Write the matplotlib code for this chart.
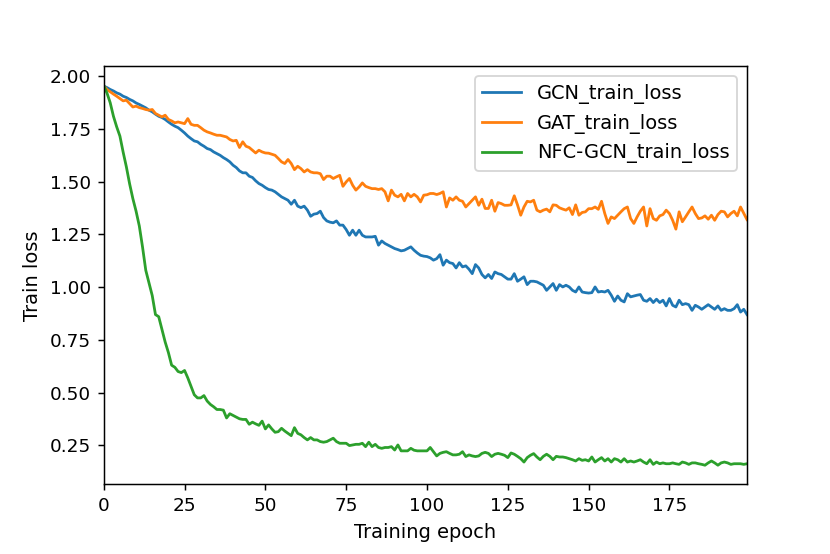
import matplotlib
matplotlib.use("Agg")
import matplotlib.pyplot as plt
import numpy as np

gcn_train_loss = [
    1.953, 1.946, 1.937, 1.93, 1.921, 1.915, 1.905, 1.899, 1.89, 1.883,
    1.873, 1.866, 1.858, 1.85, 1.839, 1.831, 1.82, 1.81, 1.804, 1.795,
    1.783, 1.772, 1.763, 1.756, 1.744, 1.731, 1.716, 1.704, 1.693, 1.689,
    1.677, 1.668, 1.657, 1.652, 1.641, 1.633, 1.625, 1.614, 1.605, 1.594,
    1.578, 1.567, 1.551, 1.542, 1.542, 1.526, 1.52, 1.504, 1.491, 1.483,
    1.472, 1.463, 1.46, 1.452, 1.44, 1.428, 1.42, 1.412, 1.393, 1.412,
    1.384, 1.377, 1.384, 1.365, 1.336, 1.346, 1.349, 1.36, 1.33, 1.314,
    1.308, 1.305, 1.314, 1.294, 1.294, 1.273, 1.246, 1.27, 1.246, 1.27,
    1.246, 1.238, 1.238, 1.238, 1.241, 1.199, 1.219, 1.207, 1.199, 1.191,
    1.183, 1.178, 1.172, 1.175, 1.183, 1.191, 1.175, 1.162, 1.151, 1.147,
    1.145, 1.139, 1.128, 1.135, 1.154, 1.104, 1.128, 1.116, 1.112, 1.091,
    1.116, 1.096, 1.101, 1.085, 1.064, 1.107, 1.091, 1.06, 1.044, 1.06,
    1.041, 1.072, 1.064, 1.06, 1.049, 1.038, 1.038, 1.064, 1.028, 1.038,
    1.049, 1.012, 1.028, 1.028, 1.025, 1.017, 1.009, 0.985, 1.001, 1.017,
    0.985, 1.012, 1.001, 1.009, 1.001, 0.985, 0.977, 1.001, 0.977, 0.974,
    0.972, 0.974, 1.001, 0.977, 0.98, 0.977, 0.985, 0.962, 0.933, 0.958,
    0.938, 0.93, 0.969, 0.954, 0.958, 0.962, 0.965, 0.938, 0.933, 0.946,
    0.927, 0.943, 0.927, 0.938, 0.911, 0.946, 0.914, 0.906, 0.938, 0.917,
    0.922, 0.917, 0.89, 0.914, 0.906, 0.895, 0.906, 0.917, 0.906, 0.895,
    0.911, 0.89, 0.898, 0.89, 0.89, 0.898, 0.917, 0.882, 0.895, 0.87,
]

gat_train_loss = [
    1.953, 1.937, 1.926, 1.915, 1.905, 1.894, 1.883, 1.886, 1.87, 1.854,
    1.858, 1.851, 1.847, 1.842, 1.839, 1.842, 1.823, 1.815, 1.807, 1.815,
    1.795, 1.788, 1.779, 1.783, 1.779, 1.775, 1.799, 1.772, 1.767, 1.767,
    1.756, 1.744, 1.736, 1.731, 1.725, 1.72, 1.72, 1.716, 1.712, 1.70,
    1.693, 1.696, 1.662, 1.689, 1.668, 1.662, 1.649, 1.636, 1.649, 1.641,
    1.636, 1.635, 1.63, 1.625, 1.61, 1.594, 1.586, 1.605, 1.586, 1.557,
    1.573, 1.562, 1.546, 1.557, 1.546, 1.542, 1.542, 1.538, 1.51, 1.526,
    1.526, 1.515, 1.523, 1.53, 1.478, 1.499, 1.515, 1.483, 1.46, 1.475,
    1.494, 1.478, 1.472, 1.467, 1.467, 1.463, 1.467, 1.452, 1.409, 1.46,
    1.436, 1.428, 1.44, 1.409, 1.444, 1.428, 1.44, 1.428, 1.404, 1.436,
    1.438, 1.444, 1.444, 1.439, 1.444, 1.452, 1.38, 1.423, 1.412, 1.428,
    1.412, 1.407, 1.38, 1.396, 1.412, 1.428, 1.388, 1.417, 1.373, 1.373,
    1.412, 1.36, 1.401, 1.396, 1.388, 1.388, 1.39, 1.433, 1.39, 1.341,
    1.38, 1.407, 1.404, 1.412, 1.365, 1.357, 1.365, 1.37, 1.357, 1.39,
    1.388, 1.376, 1.37, 1.365, 1.376, 1.344, 1.39, 1.341, 1.354, 1.357,
    1.372, 1.372, 1.38, 1.369, 1.407, 1.349, 1.302, 1.333, 1.325, 1.341,
    1.357, 1.372, 1.38, 1.325, 1.302, 1.333, 1.36, 1.38, 1.29, 1.372,
    1.325, 1.317, 1.338, 1.344, 1.365, 1.349, 1.317, 1.275, 1.357, 1.31,
    1.333, 1.357, 1.38, 1.349, 1.325, 1.328, 1.338, 1.322, 1.341, 1.317,
    1.344, 1.36, 1.357, 1.333, 1.349, 1.36, 1.338, 1.38, 1.35, 1.32,
]

nfc_gcn_train_loss = [
    1.956, 1.92, 1.874, 1.81, 1.76, 1.716, 1.64, 1.57, 1.49, 1.42,
    1.36, 1.29, 1.19, 1.08, 1.02, 0.96, 0.87, 0.86, 0.80, 0.74,
    0.69, 0.63, 0.62, 0.60, 0.595, 0.605, 0.57, 0.53, 0.49, 0.475,
    0.475, 0.486, 0.46, 0.444, 0.433, 0.42, 0.42, 0.417, 0.38, 0.40,
    0.392, 0.384, 0.376, 0.373, 0.373, 0.35, 0.36, 0.352, 0.345, 0.365,
    0.328, 0.347, 0.328, 0.312, 0.315, 0.331, 0.318, 0.307, 0.296, 0.334,
    0.307, 0.30, 0.287, 0.276, 0.287, 0.276, 0.276, 0.268, 0.265, 0.268,
    0.276, 0.284, 0.268, 0.26, 0.26, 0.26, 0.249, 0.252, 0.255, 0.255,
    0.26, 0.244, 0.265, 0.244, 0.255, 0.24, 0.236, 0.24, 0.24, 0.244,
    0.228, 0.252, 0.224, 0.224, 0.224, 0.236, 0.227, 0.224, 0.224, 0.224,
    0.224, 0.24, 0.22, 0.20, 0.212, 0.217, 0.22, 0.212, 0.205, 0.205,
    0.208, 0.22, 0.197, 0.205, 0.20, 0.197, 0.20, 0.212, 0.217, 0.212,
    0.197, 0.208, 0.212,
    0.208, 0.203, 0.192, 0.214, 0.208, 0.198, 0.187, 0.171, 0.192, 0.203,
    0.211, 0.195, 0.182, 0.198, 0.208, 0.198, 0.182, 0.198, 0.195, 0.195,
    0.192, 0.187, 0.182, 0.176, 0.187, 0.179, 0.182, 0.176, 0.195, 0.171,
    0.182, 0.192, 0.176, 0.187, 0.171, 0.187, 0.182, 0.171, 0.187, 0.171,
    0.176, 0.171, 0.176, 0.182, 0.171, 0.163, 0.182, 0.16, 0.171, 0.163,
    0.167, 0.163, 0.163, 0.167, 0.163, 0.16, 0.171, 0.167, 0.16, 0.167,
    0.167, 0.163, 0.16, 0.156, 0.167, 0.176, 0.167, 0.156, 0.167, 0.171,
    0.167, 0.16, 0.163, 0.163, 0.163, 0.16, 0.163,
]

series_labels = ["GCN_train_loss", "GAT_train_loss", "NFC-GCN_train_loss"]
epochs = np.arange(len(gcn_train_loss))

DPI = 133.33
fig = plt.figure(figsize=(830 / DPI, 554 / DPI), dpi=DPI)
fig.subplots_adjust(left=0.125, right=0.9, top=0.88, bottom=0.126)
ax = fig.add_subplot(111)

for ys, lab in zip([gcn_train_loss, gat_train_loss, nfc_gcn_train_loss], series_labels):
    ax.plot(np.arange(len(ys)), ys, label=lab)

ax.set_xlim(0, len(gcn_train_loss) - 1)
ax.set_xlabel("Training epoch", fontsize=10.5)
ax.set_ylabel("Train loss", fontsize=10.5)
ax.legend(loc="upper right", fontsize=10.5)

fig.savefig("out.png", dpi=DPI)
